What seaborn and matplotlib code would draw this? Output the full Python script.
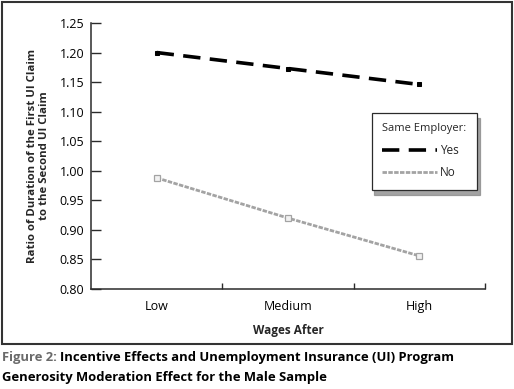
"""Figure 2: ratio of UI claim durations by wages after, male sample."""

import matplotlib
matplotlib.use("Agg")
import matplotlib.pyplot as plt
import numpy as np
import pandas as pd
import seaborn as sns
from matplotlib.patches import Rectangle

wages = ["Low", "Medium", "High"]
ratio_yes = [1.200, 1.173, 1.146]
ratio_no = [0.988, 0.920, 0.856]
y_ticks = [0.80, 0.85, 0.90, 0.95, 1.00, 1.05, 1.10, 1.15, 1.20, 1.25]

df = pd.DataFrame({
    "wages": wages * 2,
    "ratio": ratio_yes + ratio_no,
    "employer": ["Yes"] * 3 + ["No"] * 3,
})

sns.set_theme(style="white")
plt.rcParams["font.family"] = ["Open Sans", "DejaVu Sans"]

W, H = 514, 389
fig = plt.figure(figsize=(W / 100, H / 100), dpi=100)
ax = fig.add_axes([91 / W, 1 - 289 / H, 394 / W, 266 / H])

dark = "#2b2b2b"
gray = "#a3a3a3"

sns.lineplot(data=df[df.employer == "Yes"], x="wages", y="ratio", ax=ax,
             color="black", lw=2.6, marker="s", markersize=3,
             markerfacecolor="black", markeredgecolor="black",
             dashes=(4.8, 2.6), label="Yes")
sns.lineplot(data=df[df.employer == "No"], x="wages", y="ratio", ax=ax,
             color=gray, lw=2.0, marker="s", markersize=3.8,
             markerfacecolor="#f2f2f2", markeredgecolor=gray, markeredgewidth=0.9,
             dashes=(1.6, 0.5), label="No")

ax.set_xlim(-0.5, 2.5)
ax.set_ylim(0.80, 1.25)
ax.set_yticks(y_ticks)
ax.set_yticklabels([f"{v:.2f}" for v in y_ticks])
ax.set_xticks(range(len(wages)))
ax.set_xticklabels(wages)
ax.set_xticks([0.5, 1.5, 2.5], minor=True)

for side in ["top", "right"]:
    ax.spines[side].set_visible(False)
for side in ["left", "bottom"]:
    ax.spines[side].set_color(dark)
    ax.spines[side].set_linewidth(1.1)

ax.tick_params(axis="y", direction="in", length=7, width=1, color=dark,
               labelsize=9, labelcolor="black", pad=5, left=True)
ax.tick_params(axis="x", which="major", length=0, labelsize=9,
               labelcolor="black", pad=8)
ax.tick_params(axis="x", which="minor", direction="in", length=4.5,
               width=1, color=dark, bottom=True)

ax.set_xlabel("Wages After", fontsize=8.5, fontweight="bold", labelpad=8)
ax.set_ylabel("Ratio of Duration of the First UI Claim\nto the Second UI Claim",
              fontsize=8.2, fontweight="bold", labelpad=7, linespacing=1.05)

leg = ax.legend(title="Same Employer:", loc="upper right",
                bbox_to_anchor=(0.995, 0.685), fontsize=8.5, title_fontsize=8,
                handlelength=4.6, handletextpad=0.3, frameon=True,
                fancybox=False, borderpad=0.9, labelspacing=0.8,
                shadow={"ox": 2, "oy": -4, "color": "0.55", "alpha": 0.8})
leg.get_frame().set_edgecolor(dark)
leg.get_frame().set_linewidth(0.9)
leg._legend_box.align = "left"
for h in leg.legend_handles:
    h.set_marker("")

# outer frame round the chart
fig.patches.append(Rectangle((1.5 / W, 1 - 344 / H), 510.5 / W, 342.5 / H,
                             transform=fig.transFigure, fill=False,
                             edgecolor="#333333", lw=1.5))

# caption: gray "Figure 2:" followed by bold black text
cap = 9.4
t1 = fig.text(2 / W, 1 - 358 / H, "Figure 2:", color="#6a6a6a", fontsize=cap,
              fontweight="bold", va="center")
fig.canvas.draw()
bb = t1.get_window_extent()
fig.text((bb.x1 + 3) / W, 1 - 358 / H,
         "Incentive Effects and Unemployment Insurance (UI) Program",
         color="black", fontsize=cap, fontweight="bold", va="center")
fig.text(2 / W, 1 - 377 / H, "Generosity Moderation Effect for the Male Sample",
         color="black", fontsize=cap, fontweight="bold", va="center")

fig.savefig("out.png", dpi=100)
